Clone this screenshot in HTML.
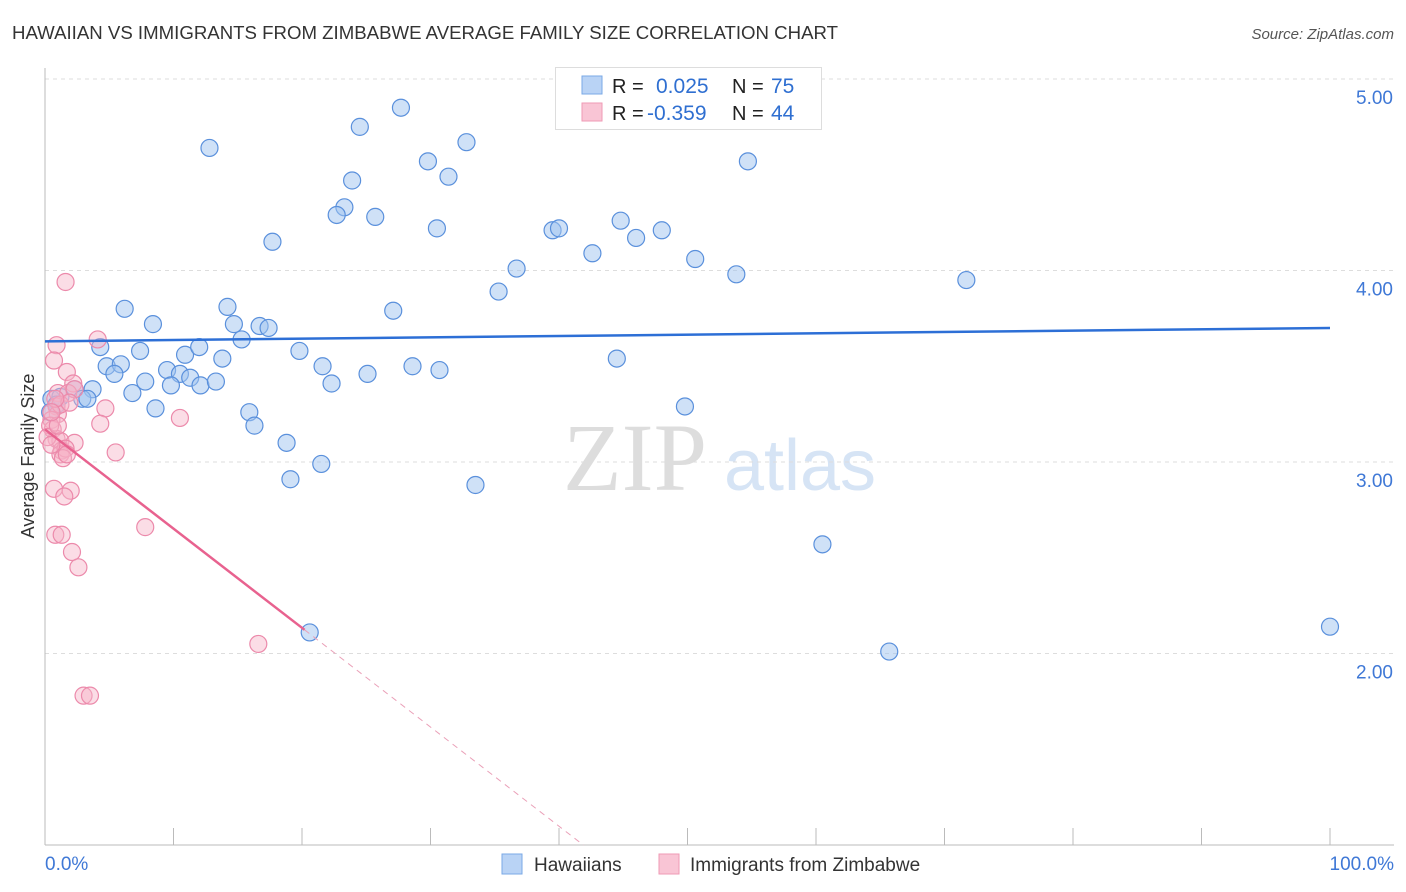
<!DOCTYPE html>
<html><head><meta charset="utf-8"><style>
body{margin:0;background:#fff;font-family:"Liberation Sans",sans-serif;}
svg{display:block}
</style></head><body>
<svg id="chart" width="1406" height="892">
<text x="12" y="39" font-size="18" fill="#333" textLength="826" lengthAdjust="spacingAndGlyphs">HAWAIIAN VS IMMIGRANTS FROM ZIMBABWE AVERAGE FAMILY SIZE CORRELATION CHART</text>
<text x="1394" y="39" font-size="15" fill="#555" font-style="italic" text-anchor="end">Source: ZipAtlas.com</text>
<g>
<text x="635" y="490" font-size="96" fill="#ddd" text-anchor="middle" font-family="Liberation Serif,serif">ZIP</text>
<text x="800" y="490" font-size="72" fill="#d6e4f5" text-anchor="middle">atlas</text>
</g>
<g id="grid"></g>
<g id="axes"></g>
<g id="pts"></g>
<g id="lines"></g>
<text x="34" y="456" font-size="18" fill="#333" text-anchor="middle" transform="rotate(-90 34 456)">Average Family Size</text>
<g>
<rect x="555.5" y="67.5" width="266" height="62" fill="#fff" stroke="#ddd"/>
<rect x="582" y="76" width="20" height="18" fill="#b9d3f5" stroke="#7aa8e6"/>
<rect x="582" y="103" width="20" height="18" fill="#f9c5d5" stroke="#ef9ab5"/>
<text x="612" y="93" font-size="20" fill="#222">R =</text><text x="656" y="93" font-size="21" fill="#2f6fd1">0.025</text>
<text x="732" y="93" font-size="20" fill="#222">N =</text><text x="771" y="93" font-size="21" fill="#2f6fd1">75</text>
<text x="612" y="120" font-size="20" fill="#222">R =</text><text x="647" y="120" font-size="21" fill="#2f6fd1">-0.359</text>
<text x="732" y="120" font-size="20" fill="#222">N =</text><text x="771" y="120" font-size="21" fill="#2f6fd1">44</text>
</g>
<g>
<rect x="502" y="854" width="20" height="20" fill="#b9d3f5" stroke="#7aa8e6"/>
<text x="534" y="871" font-size="19" fill="#333">Hawaiians</text>
<rect x="659" y="854" width="20" height="20" fill="#f9c5d5" stroke="#ef9ab5"/>
<text x="690" y="871" font-size="19" fill="#333">Immigrants from Zimbabwe</text>
</g>
</svg>
<script>
const yTicks=[2,3,4,5];
const yTickLabels=["2.00","3.00","4.00","5.00"];
const xLabels=["0.0%","100.0%"];
const blueX=[12.8,24.5,27.7,32.8,29.8,31.4,23.9,23.3,22.7,25.7,30.5,17.7,39.5,40,42.6,44.8,46,48,50.6,54.7,36.7,35.3,53.8,71.7,6.2,14.2,27.1,8.4,14.7,16.7,17.4,15.3,4.3,7.4,10.9,12,19.8,44.5,4.8,5.9,5.4,9.5,10.5,11.3,13.8,21.6,25.1,28.6,30.7,7.8,9.8,12.1,13.3,22.3,3.7,6.8,2.3,0.5,1.2,2.9,3.3,8.6,15.9,49.8,16.3,18.8,21.5,19.1,33.5,60.5,20.6,65.7,100,0.9,0.4];
const blueY=[4.64,4.75,4.85,4.67,4.57,4.49,4.47,4.33,4.29,4.28,4.22,4.15,4.21,4.22,4.09,4.26,4.17,4.21,4.06,4.57,4.01,3.89,3.98,3.95,3.80,3.81,3.79,3.72,3.72,3.71,3.70,3.64,3.60,3.58,3.56,3.60,3.58,3.54,3.50,3.51,3.46,3.48,3.46,3.44,3.54,3.50,3.46,3.50,3.48,3.42,3.40,3.40,3.42,3.41,3.38,3.36,3.38,3.33,3.34,3.33,3.33,3.28,3.26,3.29,3.19,3.10,2.99,2.91,2.88,2.57,2.11,2.01,2.14,3.30,3.26];
const pinkX=[1.6,4.1,0.9,0.7,1.7,2.2,1,1.8,2.3,4.7,4.3,10.5,0.9,1,0.5,0.6,0.9,1.2,2.3,1.3,1.2,1.6,5.5,0.7,2,1.5,7.8,0.8,1.3,2.1,2.6,16.6,3,3.5,0.4,0.2,0.5,1.2,1.9,0.8,1,0.5,1.4,1.7];
const pinkY=[3.94,3.64,3.61,3.53,3.47,3.41,3.36,3.36,3.38,3.28,3.20,3.23,3.29,3.25,3.22,3.17,3.12,3.11,3.10,3.06,3.04,3.07,3.05,2.86,2.85,2.82,2.66,2.62,2.62,2.53,2.45,2.05,1.78,1.78,3.19,3.13,3.09,3.30,3.31,3.33,3.19,3.26,3.02,3.04];
const X=v=>45+v*12.85, Y=v=>79+(5-v)*191.5;
const NS="http://www.w3.org/2000/svg";
function mk(p,t,a){const e=document.createElementNS(NS,t);for(const k in a)e.setAttribute(k,a[k]);document.getElementById(p).appendChild(e);return e;}
yTicks.forEach((t,i)=>{
 const g=mk('grid','line',{x1:45,x2:1394,y1:Y(t),y2:Y(t),stroke:'#ddd','stroke-dasharray':'4,4'});
 
 
 const l=mk('axes','text',{x:1393,y:Y(t)+25,'font-size':19,fill:'#3f78d6','text-anchor':'end'});l.textContent=yTickLabels[i];
 
 
});
mk('axes','line',{x1:45,x2:45,y1:68,y2:845,stroke:'#bbb'});
mk('axes','line',{x1:45,x2:1394,y1:845,y2:845,stroke:'#bbb'});
for(let i=0;i<=10;i++){const t=mk('axes','line',{x1:X(i*10),x2:X(i*10),y1:828,y2:845,stroke:'#bbb'});
 
 }
[[0,'start',45],[1,'end',1394]].forEach(([i,a,x])=>{const l=mk('axes','text',{x:x,y:870,'font-size':19,fill:'#3f78d6','text-anchor':a});l.textContent=xLabels[i];
 
 });
blueX.forEach((v,i)=>{const c=mk('pts','circle',{cx:X(v),cy:Y(blueY[i]),r:8.5,fill:'rgba(160,196,240,0.5)',stroke:'#5a90dc','stroke-width':1.2});
 
 });
pinkX.forEach((v,i)=>{const c=mk('pts','circle',{cx:X(v),cy:Y(pinkY[i]),r:8.5,fill:'rgba(247,180,200,0.45)',stroke:'#ec8aab','stroke-width':1.2});
 
 });
const bl=mk('lines','line',{x1:X(0),y1:Y(3.63),x2:X(100),y2:Y(3.70),stroke:'#2d6fd6','stroke-width':2.5});


const pa=3.17,pb=-0.0518;
const pl=mk('lines','line',{x1:X(0),y1:Y(pa),x2:X(20.2),y2:Y(pa+pb*20.2),stroke:'#e8628f','stroke-width':2.5});


const pd=mk('lines','line',{x1:X(20.2),y1:Y(pa+pb*20.2),x2:X(41.9),y2:Y(pa+pb*41.9),stroke:'#eaa0b8','stroke-width':1,'stroke-dasharray':'6,5'});


</script>
</body></html>
